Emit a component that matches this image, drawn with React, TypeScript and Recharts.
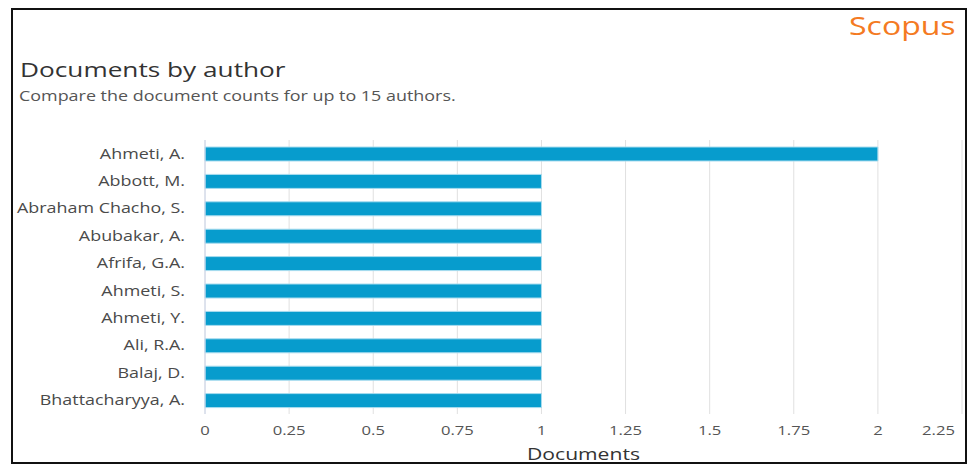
import { BarChart, Bar, XAxis, YAxis, CartesianGrid } from "recharts";

const authors = [
  "Ahmeti, A.",
  "Abbott, M.",
  "Abraham Chacho, S.",
  "Abubakar, A.",
  "Afrifa, G.A.",
  "Ahmeti, S.",
  "Ahmeti, Y.",
  "Ali, R.A.",
  "Balaj, D.",
  "Bhattacharyya, A.",
];
const documents = [2, 1, 1, 1, 1, 1, 1, 1, 1, 1];
const xTicks = [0, 0.25, 0.5, 0.75, 1, 1.25, 1.5, 1.75, 2, 2.25];

const data = authors.map((name, i) => ({ name, documents: documents[i] }));

const FONT = "'Open Sans', 'DejaVu Sans', sans-serif";
// the screenshot is stretched sideways, so text is widened to match
const STRETCH = 1.28;

function XTick(props: any) {
  const { x, y, payload } = props;
  const last = payload.value === xTicks[xTicks.length - 1];
  return (
    <text
      x={0}
      y={0}
      dy="0.71em"
      transform={`translate(${x},${y + 4}) scale(${STRETCH},1)`}
      textAnchor={last ? "end" : "middle"}
      fill="#555"
      fontSize={13}
      fontFamily={FONT}
    >
      {payload.value}
    </text>
  );
}

function YTick(props: any) {
  const { x, y, payload } = props;
  return (
    <text
      x={0}
      y={0}
      dy="0.355em"
      transform={`translate(${x},${y}) scale(${STRETCH},1)`}
      textAnchor="end"
      fill="#4a4a4a"
      fontSize={14}
      fontFamily={FONT}
    >
      {payload.value}
    </text>
  );
}

function AxisTitle(props: any) {
  const vb = props.viewBox || {};
  const cx = (vb.x ?? 205) + (vb.width ?? 757) / 2;
  return (
    <text
      x={0}
      y={0}
      transform={`translate(${cx},460) scale(${STRETCH},1)`}
      textAnchor="middle"
      fill="#333"
      fontSize={16.5}
      fontFamily={FONT}
    >
      Documents
    </text>
  );
}

export default function App() {
  return (
    <div
      style={{
        position: "absolute",
        left: 0,
        top: 0,
        width: 969,
        height: 467,
        background: "#fff",
        fontFamily: FONT,
        overflow: "hidden",
      }}
    >
      <div
        style={{
          position: "absolute",
          left: 11,
          top: 8,
          width: 952,
          height: 452,
          border: "2px solid #111",
        }}
      />
      <div
        style={{
          position: "absolute",
          left: 849,
          top: 8,
          fontSize: 25,
          lineHeight: "34px",
          color: "#f47a22",
          transform: `scaleX(${STRETCH})`,
          transformOrigin: "left",
          whiteSpace: "nowrap",
        }}
      >
        Scopus
      </div>
      <div
        style={{
          position: "absolute",
          left: 20,
          top: 56,
          fontSize: 20,
          lineHeight: "27px",
          color: "#333",
          transform: `scaleX(${STRETCH + 0.03})`,
          transformOrigin: "left",
          whiteSpace: "nowrap",
        }}
      >
        Documents by author
      </div>
      <div
        style={{
          position: "absolute",
          left: 19,
          top: 86,
          fontSize: 14,
          lineHeight: "19px",
          color: "#555",
          transform: `scaleX(${STRETCH})`,
          transformOrigin: "left",
          whiteSpace: "nowrap",
        }}
      >
        Compare the document counts for up to 15 authors.
      </div>
      <div style={{ position: "absolute", left: 0, top: 0 }}>
        <BarChart
          width={969}
          height={467}
          data={data}
          layout="vertical"
          margin={{ top: 140, right: 7, left: 0, bottom: 0 }}
          barSize={14}
        >
          <CartesianGrid horizontal={false} stroke="#e0e0e0" />
          <XAxis
            type="number"
            dataKey="documents"
            domain={[0, 2.25]}
            ticks={xTicks}
            axisLine={false}
            tickLine={false}
            height={53}
            tick={<XTick />}
            label={{ content: <AxisTitle /> }}
          />
          <YAxis
            type="category"
            dataKey="name"
            width={205}
            axisLine={{ stroke: "#ccd6eb" }}
            tickLine={false}
            tickSize={0}
            tickMargin={20}
            interval={0}
            tick={<YTick />}
          />
          <Bar
            dataKey="documents"
            fill="#079ccd"
            stroke="#a8dcef"
            strokeWidth={1}
            isAnimationActive={false}
          />
        </BarChart>
      </div>
    </div>
  );
}
